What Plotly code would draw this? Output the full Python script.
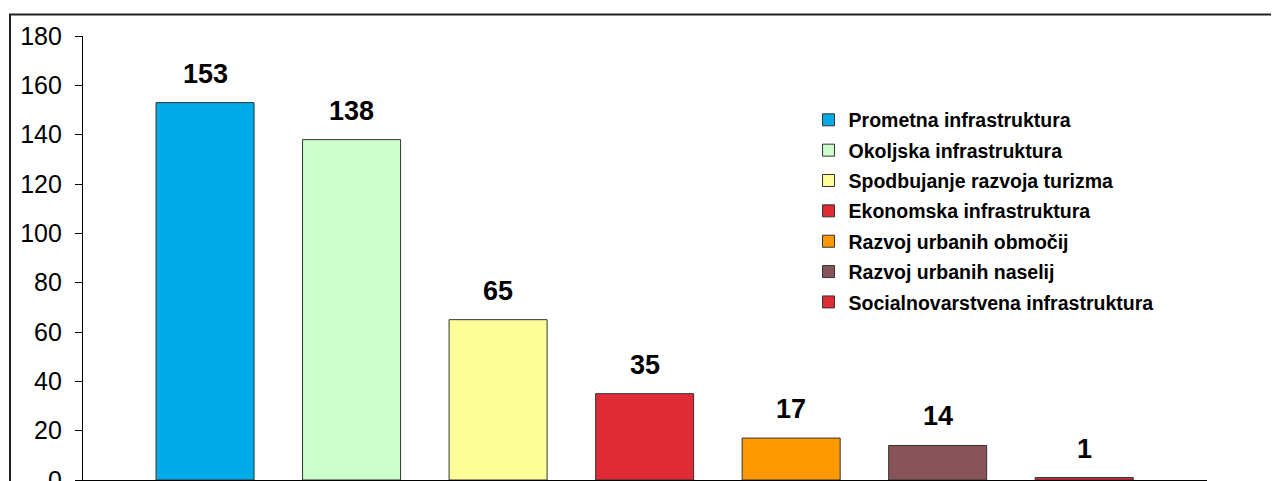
import plotly.graph_objects as go

categories = [
    "Prometna infrastruktura",
    "Okoljska infrastruktura",
    "Spodbujanje razvoja turizma",
    "Ekonomska infrastruktura",
    "Razvoj urbanih območij",
    "Razvoj urbanih naselij",
    "Socialnovarstvena infrastruktura",
]
values = [153, 138, 65, 35, 17, 14, 1]
colors = ["#00ABE8", "#CCFFCC", "#FFFF99", "#DE2B36", "#FF9900", "#875459", "#DE2B36"]
y_ticks = [0, 20, 40, 60, 80, 100, 120, 140, 160, 180]

FONT = "Arial, Liberation Sans, sans-serif"

# page body has an 8px default margin; figure coordinates are offset accordingly
L, T, B, R = 75, 27.5, 9, 80
PH = 481 - T - B
PW = 1279 - L - R

fig = go.Figure()
for name, val, col in zip(categories, values, colors):
    fig.add_trace(go.Bar(
        x=[name], y=[val], name=name, legendgroup=name,
        marker=dict(color=col, line=dict(color="#333333", width=1)),
        width=0.669,
    ))
    fig.add_annotation(
        x=name, y=val, text=str(val), showarrow=False,
        yanchor="bottom", yshift=12,
        font=dict(family=FONT, size=27, color="black", weight="bold"),
    )

fig.update_layout(
    width=1279, height=481,
    margin=dict(l=L, r=R, t=T, b=B, autoexpand=False),
    paper_bgcolor="white", plot_bgcolor="white",
    barmode="overlay",
    showlegend=True,
    legend=dict(
        x=0.6455, y=0.8544, xanchor="left", yanchor="top",
        font=dict(family=FONT, size=19.5, color="black", weight="bold"),
        bgcolor="rgba(0,0,0,0)", borderwidth=0,
        tracegroupgap=2, itemwidth=30,
    ),
    xaxis=dict(
        categoryorder="array", categoryarray=categories,
        range=[-0.833, 6.838], showticklabels=False, ticks="",
        showline=True, linecolor="black", linewidth=1.3,
        showgrid=False, zeroline=False, automargin=False,
    ),
    yaxis=dict(
        range=[0, 180], tickvals=y_ticks, ticks="outside", ticklen=7,
        tickcolor="black", tickwidth=1, ticklabelstandoff=8,
        ticklabeloverflow="allow",
        showline=True, linecolor="black", linewidth=1.3,
        showgrid=False, zeroline=False, automargin=False,
        tickfont=dict(family=FONT, size=25, color="black"),
    ),
    shapes=[dict(
        type="rect", xref="paper", yref="paper",
        x0=(2 - L) / PW, x1=1.1, y0=-0.2, y1=(481 - B - 6) / PH,
        line=dict(color="#222222", width=2), fillcolor="rgba(0,0,0,0)",
        layer="below",
    )],
)

fig.write_html("out.html")
